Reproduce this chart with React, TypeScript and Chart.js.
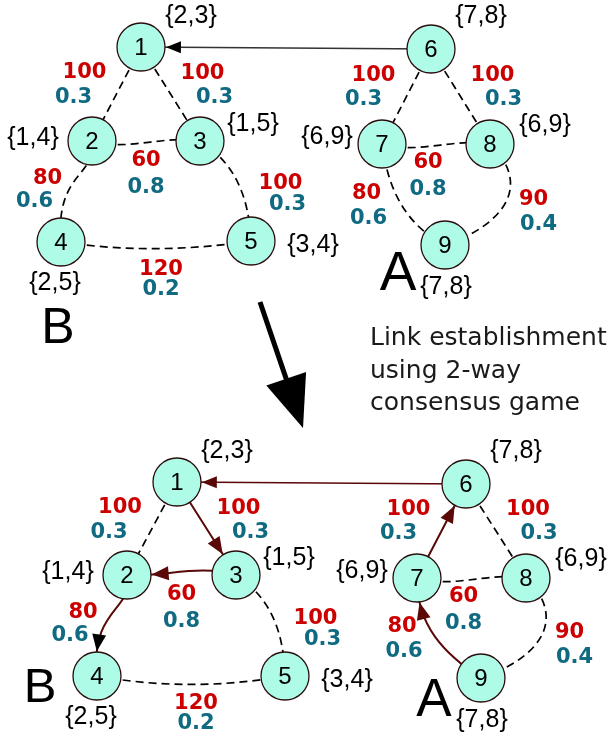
import React, { useEffect, useRef } from 'react';
import { Chart, registerables } from 'chart.js';
Chart.register(...registerables);

// ---------- data ----------
const nodeIds = [1, 2, 3, 4, 5, 6, 7, 8, 9];
const setLabels = ['{2,3}', '{1,4}', '{1,5}', '{2,5}', '{3,4}', '{7,8}', '{6,9}', '{6,9}', '{7,8}'];
const topNodeX = [141, 92, 200, 61, 251, 431, 382, 490, 445];
const topNodeY = [47, 141, 141, 242, 241, 49, 144, 144, 245];
const bottomNodeX = [177, 127, 236, 97, 285, 466, 417, 526, 481];
const bottomNodeY = [482, 575, 575, 676, 676, 484, 578, 578, 678];
const edgeFrom = [1, 1, 2, 2, 3, 4, 6, 6, 7, 7, 8];
const edgeTo = [2, 3, 3, 4, 5, 5, 7, 8, 8, 9, 9];
const edgeCost = [100, 100, 60, 80, 100, 120, 100, 100, 60, 80, 90];
const edgeWeight = [0.3, 0.3, 0.8, 0.6, 0.3, 0.2, 0.3, 0.3, 0.8, 0.6, 0.4];
const interLinkFrom = 6;
const interLinkTo = 1;
const establishedFrom = [1, 3, 2, 7, 9];
const establishedTo = [3, 2, 4, 6, 7];
const clusterNames = ['B', 'A'];
const captionLines = ['Link establishment', 'using 2-way', 'consensus game'];

// ---------- style / layout ----------
const R = 24;
const NODE_FILL = '#aefbe8';
const NODE_BORDER = '#2b0d0d';
const RED = '#cc0000';
const TEAL = '#0f6a82';
const LINK = '#5a0808';
// curve shape per edge: [along1, perp1, along2, perp2] (fractions of edge length)
const topBends = [
  [1 / 3, 0, 2 / 3, 0], [1 / 3, 0, 2 / 3, 0], [1 / 3, -0.1, 2 / 3, 0.06], [0.3, 0.15, 0.38, -0.25],
  [1 / 3, 0.2, 2 / 3, 0.15], [1 / 3, -0.05, 2 / 3, -0.05], [1 / 3, 0, 2 / 3, 0], [1 / 3, 0, 2 / 3, 0],
  [1 / 3, -0.1, 2 / 3, 0.06], [1 / 3, -0.15, 2 / 3, -0.2], [0.18, 0.5, 0.61, 0.42],
];
const bottomBends = [
  [1 / 3, 0, 2 / 3, 0], [1 / 3, 0, 2 / 3, 0], [1 / 3, -0.02, 2 / 3, 0.1], [0.3, 0.17, 0.39, -0.25],
  [1 / 3, 0.2, 2 / 3, 0.15], [1 / 3, -0.06, 2 / 3, -0.06], [1 / 3, 0, 2 / 3, 0], [1 / 3, 0, 2 / 3, 0],
  [1 / 3, -0.1, 2 / 3, 0.06], [1 / 3, -0.22, 2 / 3, -0.15], [0.18, 0.5, 0.61, 0.42],
];
const setLabelOffsets = [[50, -31], [-59, -3], [53, -17], [-6, 41], [62, 4], [50, -33], [-55, -7], [55, -19], [1, 42]];
const costOffsets = [[-32, -21], [32, -20], [0, 20], [-29, -13], [55, -7], [5, 28], [-33, -21], [32, -21], [-8, 19], [-47, -1], [66, 5]];
const weightOffsets = [[-43, 4], [44, 4], [0, 47], [-42, 10], [62, 14], [5, 48], [-43, 3], [43, 3], [-8, 46], [-45, 24], [71, 30]];

type P = { x: number; y: number };

function ctrlPts(p0: P, p3: P, b: number[]): P[] {
  const dx = p3.x - p0.x, dy = p3.y - p0.y;
  const L = Math.hypot(dx, dy);
  const nx = dy / L, ny = -dx / L;
  return [
    p0,
    { x: p0.x + dx * b[0] + nx * b[1] * L, y: p0.y + dy * b[0] + ny * b[1] * L },
    { x: p0.x + dx * b[2] + nx * b[3] * L, y: p0.y + dy * b[2] + ny * b[3] * L },
    p3,
  ];
}
function bez(pts: P[], t: number): P {
  const u = 1 - t;
  const a = u * u * u, b = 3 * u * u * t, c = 3 * u * t * t, d = t * t * t;
  return {
    x: a * pts[0].x + b * pts[1].x + c * pts[2].x + d * pts[3].x,
    y: a * pts[0].y + b * pts[1].y + c * pts[2].y + d * pts[3].y,
  };
}
function strokeCurve(ctx: CanvasRenderingContext2D, pts: P[]) {
  ctx.beginPath();
  ctx.moveTo(pts[0].x, pts[0].y);
  ctx.bezierCurveTo(pts[1].x, pts[1].y, pts[2].x, pts[2].y, pts[3].x, pts[3].y);
  ctx.stroke();
}
function arrowHead(ctx: CanvasRenderingContext2D, pts: P[], color: string, len: number, hw: number) {
  const target = pts[3];
  let t = 1;
  while (t > 0 && Math.hypot(bez(pts, t).x - target.x, bez(pts, t).y - target.y) < R + 0.5) t -= 0.002;
  const tip = bez(pts, t);
  const prev = bez(pts, Math.max(0, t - 0.04));
  let dx = tip.x - prev.x, dy = tip.y - prev.y;
  const l = Math.hypot(dx, dy) || 1;
  dx /= l; dy /= l;
  const bx = tip.x - dx * len, by = tip.y - dy * len;
  ctx.fillStyle = color;
  ctx.beginPath();
  ctx.moveTo(tip.x, tip.y);
  ctx.lineTo(bx - dy * hw, by + dx * hw);
  ctx.lineTo(bx + dy * hw, by - dx * hw);
  ctx.closePath();
  ctx.fill();
}

const STRAIGHT = [1 / 3, 0, 2 / 3, 0];
const panels = [
  { xs: topNodeX, ys: topNodeY, bends: topBends, established: false, letters: [{ x: 58, y: 343, s: 50 }, { x: 398, y: 290, s: 55 }] },
  { xs: bottomNodeX, ys: bottomNodeY, bends: bottomBends, established: true, letters: [{ x: 40, y: 702, s: 49 }, { x: 434, y: 716, s: 53 }] },
];

function isEstablished(a: number, b: number): number {
  for (let i = 0; i < establishedFrom.length; i++) {
    if (establishedFrom[i] === a && establishedTo[i] === b) return 1;
    if (establishedFrom[i] === b && establishedTo[i] === a) return -1;
  }
  return 0;
}

const diagramPlugin = {
  id: 'diagram',
  beforeDatasetsDraw(chart: any) {
    const ctx: CanvasRenderingContext2D = chart.ctx;
    const sx = chart.scales.x, sy = chart.scales.y;
    ctx.save();
    ctx.lineCap = 'butt';
    panels.forEach((pn) => {
      const pos = (id: number): P => ({ x: sx.getPixelForValue(pn.xs[id - 1]), y: sy.getPixelForValue(pn.ys[id - 1]) });
      edgeFrom.forEach((f, i) => {
        const tId = edgeTo[i];
        let pts = ctrlPts(pos(f), pos(tId), pn.bends[i]);
        const est = pn.established ? isEstablished(f, tId) : 0;
        if (est !== 0) {
          if (est < 0) pts = [pts[3], pts[2], pts[1], pts[0]];
          ctx.setLineDash([]);
          ctx.strokeStyle = LINK;
          ctx.lineWidth = 2;
        } else {
          ctx.setLineDash([8, 5]);
          ctx.strokeStyle = '#000';
          ctx.lineWidth = 1.7;
        }
        strokeCurve(ctx, pts);
      });
      const a = pos(interLinkFrom), b = pos(interLinkTo);
      ctx.setLineDash([]);
      ctx.strokeStyle = pn.established ? LINK : '#333';
      ctx.lineWidth = 1.7;
      strokeCurve(ctx, ctrlPts(a, b, STRAIGHT));
    });
    ctx.restore();
  },
  afterDatasetsDraw(chart: any) {
    const ctx: CanvasRenderingContext2D = chart.ctx;
    const sx = chart.scales.x, sy = chart.scales.y;
    ctx.save();
    panels.forEach((pn) => {
      const pos = (id: number): P => ({ x: sx.getPixelForValue(pn.xs[id - 1]), y: sy.getPixelForValue(pn.ys[id - 1]) });
      if (pn.established) {
        edgeFrom.forEach((f, i) => {
          const tId = edgeTo[i];
          const est = isEstablished(f, tId);
          if (est === 0) return;
          let pts = ctrlPts(pos(f), pos(tId), pn.bends[i]);
          if (est < 0) pts = [pts[3], pts[2], pts[1], pts[0]];
          const target = est < 0 ? f : tId;
          arrowHead(ctx, pts, target === 4 ? '#000' : LINK, 17, 7);
        });
      }
      arrowHead(ctx, ctrlPts(pos(interLinkFrom), pos(interLinkTo), STRAIGHT), pn.established ? LINK : '#000', 15, 6);

      ctx.fillStyle = '#000';
      ctx.textAlign = 'center';
      ctx.textBaseline = 'middle';
      ctx.font = '24px "Liberation Sans", Arial, sans-serif';
      nodeIds.forEach((id) => {
        const p = pos(id);
        ctx.fillText(String(id), p.x, p.y + 1);
      });
      ctx.font = '25px "Liberation Sans", Arial, sans-serif';
      nodeIds.forEach((id, i) => {
        const p = pos(id);
        ctx.fillText(setLabels[i], p.x + setLabelOffsets[i][0], p.y + setLabelOffsets[i][1]);
      });
      ctx.font = 'bold 21px "DejaVu Sans", Verdana, sans-serif';
      edgeFrom.forEach((f, i) => {
        const a = pos(f), b = pos(edgeTo[i]);
        const mx = (a.x + b.x) / 2, my = (a.y + b.y) / 2;
        ctx.fillStyle = RED;
        ctx.fillText(String(edgeCost[i]), mx + costOffsets[i][0], my + costOffsets[i][1]);
        ctx.fillStyle = TEAL;
        ctx.fillText(edgeWeight[i].toFixed(1), mx + weightOffsets[i][0], my + weightOffsets[i][1]);
      });
      ctx.fillStyle = '#000';
      ctx.textBaseline = 'alphabetic';
      pn.letters.forEach((L, k) => {
        ctx.font = `${L.s}px "Liberation Sans", Arial, sans-serif`;
        ctx.fillText(clusterNames[k], sx.getPixelForValue(L.x), sy.getPixelForValue(L.y));
      });
    });

    // transition arrow
    const s = { x: sx.getPixelForValue(260), y: sy.getPixelForValue(302) };
    const tip = { x: sx.getPixelForValue(303), y: sy.getPixelForValue(428) };
    let dx = tip.x - s.x, dy = tip.y - s.y;
    const l = Math.hypot(dx, dy);
    dx /= l; dy /= l;
    const hl = 52, hw = 21;
    const bx = tip.x - dx * hl, by = tip.y - dy * hl;
    ctx.strokeStyle = '#000';
    ctx.lineWidth = 5;
    ctx.beginPath();
    ctx.moveTo(s.x, s.y);
    ctx.lineTo(bx + dx * 4, by + dy * 4);
    ctx.stroke();
    ctx.fillStyle = '#000';
    ctx.beginPath();
    ctx.moveTo(tip.x, tip.y);
    ctx.lineTo(bx - dy * hw, by + dx * hw);
    ctx.lineTo(bx + dy * hw, by - dx * hw);
    ctx.closePath();
    ctx.fill();

    ctx.fillStyle = '#1a1a1a';
    ctx.textAlign = 'left';
    ctx.font = '25px "DejaVu Sans", Verdana, sans-serif';
    const capBase = [345, 378, 410];
    captionLines.forEach((line, i) => {
      ctx.fillText(line, sx.getPixelForValue(370), sy.getPixelForValue(capBase[i]));
    });
    ctx.restore();
  },
};

export default function App() {
  const ref = useRef<HTMLCanvasElement>(null);
  useEffect(() => {
    const nodeStyle = {
      pointRadius: R,
      pointHoverRadius: R,
      pointBackgroundColor: NODE_FILL,
      pointBorderColor: NODE_BORDER,
      pointBorderWidth: 1.3,
      pointHoverBorderWidth: 1.3,
      showLine: false,
      clip: false,
    };
    const chart = new Chart(ref.current!, {
      type: 'scatter',
      data: {
        datasets: [
          { label: 'top', data: nodeIds.map((_, i) => ({ x: topNodeX[i], y: topNodeY[i] })), ...nodeStyle },
          { label: 'bottom', data: nodeIds.map((_, i) => ({ x: bottomNodeX[i], y: bottomNodeY[i] })), ...nodeStyle },
        ],
      },
      options: {
        responsive: false,
        animation: false,
        events: [],
        layout: { padding: 0, autoPadding: false },
        plugins: { legend: { display: false }, tooltip: { enabled: false } },
        scales: {
          x: { type: 'linear', min: 0, max: 611, display: false },
          y: { type: 'linear', min: 0, max: 741, reverse: true, display: false },
        },
      },
      plugins: [diagramPlugin],
    } as any);
    return () => chart.destroy();
  }, []);
  return (
    <div style={{ position: 'absolute', left: 0, top: 0, width: 611, height: 741, background: '#fff' }}>
      <canvas ref={ref} width={611} height={741} style={{ display: 'block' }} />
    </div>
  );
}
